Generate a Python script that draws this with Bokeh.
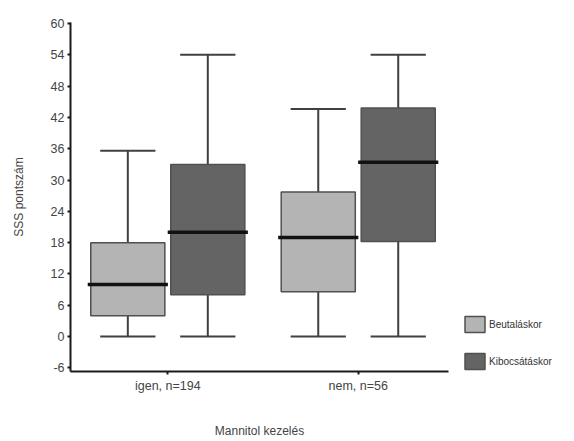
from bokeh.plotting import figure
from bokeh.models import FixedTicker, Range1d, Legend, LegendItem, ColumnDataSource
from bokeh.embed import file_html
from bokeh.resources import INLINE

groups = ["igen, n=194", "nem, n=56"]
series = ["Beutaláskor", "Kibocsátáskor"]
y_ticks = [-6, 0, 6, 12, 18, 24, 30, 36, 42, 48, 54, 60]

beut_low = [0, 0]
beut_q1 = [4, 8.6]
beut_med = [10, 19]
beut_q3 = [18, 27.7]
beut_high = [35.6, 43.6]

kib_low = [0, 0]
kib_q1 = [8, 18.2]
kib_med = [20, 33.4]
kib_q3 = [33, 43.8]
kib_high = [54, 54]

colors = ["#b4b4b4", "#646464"]

p = figure(frame_width=378, frame_height=349, output_backend="svg", toolbar_location=None,
           x_range=Range1d(0.489, 2.474), y_range=Range1d(-6.7, 60.2),
           min_border_left=70, min_border_right=126, min_border_top=22, min_border_bottom=70)
p.outline_line_color = None
p.xgrid.grid_line_color = None
p.ygrid.grid_line_color = None
p.background_fill_color = "white"
p.border_fill_color = "white"

offset = 0.21
bw = 0.389
cap = 0.29
renderers = []
stats = [(beut_low, beut_q1, beut_med, beut_q3, beut_high),
         (kib_low, kib_q1, kib_med, kib_q3, kib_high)]
for si, (lo, q1, med, q3, hi) in enumerate(stats):
    xs = [i + 1 + (offset if si else -offset) for i in range(len(groups))]
    src = ColumnDataSource(dict(x=xs, lo=lo, q1=q1, med=med, q3=q3, hi=hi,
                                xl=[x - cap / 2 for x in xs], xr=[x + cap / 2 for x in xs],
                                ml=[x - bw / 2 - 0.016 for x in xs], mr=[x + bw / 2 + 0.016 for x in xs]))
    p.segment(x0="x", y0="lo", x1="x", y1="q1", source=src, line_color="#404040", line_width=2)
    p.segment(x0="x", y0="q3", x1="x", y1="hi", source=src, line_color="#404040", line_width=2)
    p.segment(x0="xl", y0="lo", x1="xr", y1="lo", source=src, line_color="#404040", line_width=2)
    p.segment(x0="xl", y0="hi", x1="xr", y1="hi", source=src, line_color="#404040", line_width=2)
    r = p.vbar(x="x", width=bw, bottom="q1", top="q3", source=src,
               fill_color=colors[si], line_color="#505050", line_width=1.5)
    renderers.append(r)
    p.segment(x0="ml", y0="med", x1="mr", y1="med", source=src, line_color="#111111", line_width=3.5)

p.xaxis.ticker = FixedTicker(ticks=[1, 2])
p.xaxis.major_label_overrides = {1: groups[0], 2: groups[1]}
p.xaxis.minor_tick_line_color = None
p.xaxis.major_tick_in = 0
p.xaxis.major_tick_out = 3
p.xaxis.axis_label = "Mannitol kezelés"
p.xaxis.axis_label_standoff = 28

p.yaxis.ticker = FixedTicker(ticks=y_ticks)
p.yaxis.major_label_overrides = {t: str(t) for t in y_ticks}
p.yaxis.minor_tick_line_color = None
p.yaxis.major_tick_in = 0
p.yaxis.major_tick_out = 3
p.yaxis.axis_label = "SSS pontszám"
p.yaxis.axis_label_standoff = 22

for ax in (p.xaxis, p.yaxis):
    ax.axis_line_color = "#1a1a1a"
    ax.axis_line_width = 2
    ax.major_tick_line_color = "#1a1a1a"
    ax.major_tick_line_width = 2
    ax.major_label_text_font = "Liberation Sans"
    ax.major_label_text_font_size = "12.5px"
    ax.major_label_text_color = "#444444"
    ax.axis_label_text_font = "Liberation Sans"
    ax.axis_label_text_font_size = "12px"
    ax.axis_label_text_font_style = "normal"
    ax.axis_label_text_color = "#444444"
p.yaxis.major_label_standoff = 3
p.xaxis.major_label_standoff = 4

legend = Legend(items=[LegendItem(label=series[i], renderers=[renderers[i]]) for i in range(2)],
                location=(14, 0), orientation="vertical")
legend.glyph_width = 25
legend.glyph_height = 20
legend.label_height = 20
legend.spacing = 17
legend.padding = 0
legend.margin = 0
legend.label_standoff = 2
legend.label_text_font = "Liberation Sans"
legend.label_text_font_size = "10px"
legend.label_text_color = "#333333"
legend.border_line_color = None
legend.background_fill_alpha = 0
p.add_layout(legend, "right")

open("out.html", "w").write(file_html(p, INLINE))
